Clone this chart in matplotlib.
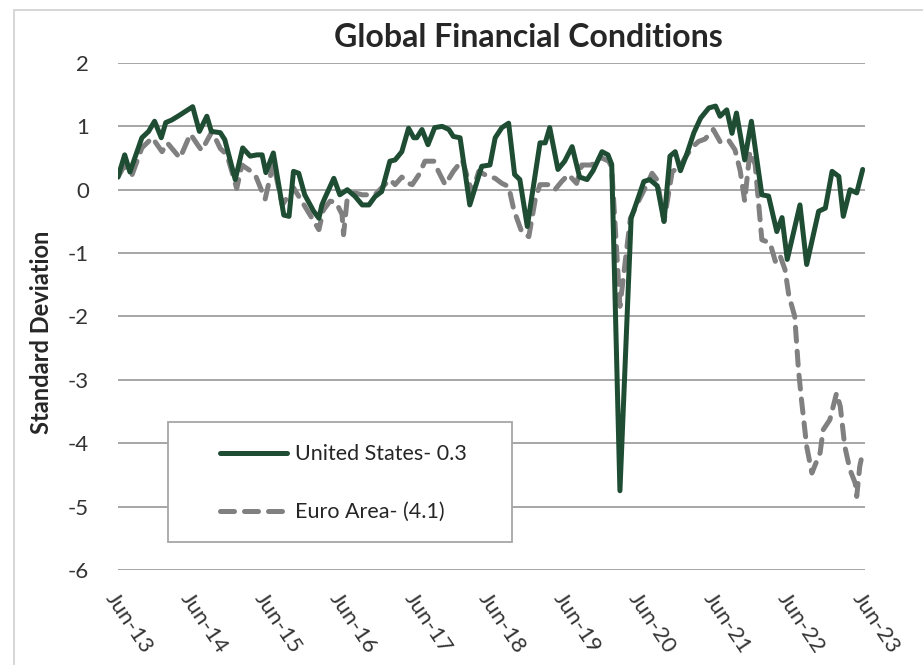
import numpy as np
import matplotlib.pyplot as plt
from matplotlib.patches import Rectangle

# dates as decimal years, values in standard deviations
us_t = [2013.50, 2013.59, 2013.66, 2013.82, 2013.91, 2013.99, 2014.08, 2014.14, 2014.22, 2014.33,
        2014.50, 2014.59, 2014.69, 2014.75, 2014.87, 2014.93, 2015.07, 2015.17, 2015.27, 2015.36,
        2015.43, 2015.48, 2015.58, 2015.72, 2015.79, 2015.85, 2015.92, 2016.00, 2016.12, 2016.19,
        2016.23, 2016.27, 2016.39, 2016.47, 2016.57, 2016.67, 2016.77, 2016.86, 2016.94, 2017.03,
        2017.14, 2017.21, 2017.30, 2017.39, 2017.46, 2017.50, 2017.57, 2017.65, 2017.74, 2017.84,
        2017.93, 2017.99, 2018.08, 2018.21, 2018.37, 2018.48, 2018.55, 2018.64, 2018.73, 2018.81,
        2018.88, 2018.98, 2019.15, 2019.22, 2019.28, 2019.39, 2019.48, 2019.58, 2019.68, 2019.78,
        2019.86, 2019.98, 2020.06, 2020.11, 2020.22, 2020.37, 2020.54, 2020.62, 2020.72, 2020.81,
        2020.89, 2020.96, 2021.03, 2021.12, 2021.21, 2021.30, 2021.41, 2021.50, 2021.56, 2021.65,
        2021.72, 2021.78, 2021.89, 2021.98, 2022.12, 2022.21, 2022.32, 2022.39, 2022.46, 2022.63,
        2022.72, 2022.88, 2022.97, 2023.06, 2023.15, 2023.21, 2023.30, 2023.39, 2023.47]
us_v = [0.20, 0.55, 0.28, 0.82, 0.92, 1.08, 0.82, 1.06, 1.10, 1.18,
        1.31, 0.92, 1.16, 0.92, 0.90, 0.79, 0.16, 0.66, 0.53, 0.55,
        0.55, 0.27, 0.58, -0.40, -0.42, 0.29, 0.26, -0.08, -0.34, -0.45,
        -0.24, -0.13, 0.18, -0.08, 0.00, -0.10, -0.24, -0.24, -0.11, -0.03,
        0.45, 0.47, 0.60, 0.97, 0.82, 0.82, 0.95, 0.71, 0.98, 1.00,
        0.95, 0.84, 0.82, -0.24, 0.37, 0.39, 0.82, 0.98, 1.05, 0.24,
        0.16, -0.58, 0.74, 0.74, 0.98, 0.32, 0.45, 0.68, 0.20, 0.16,
        0.30, 0.60, 0.55, 0.40, -4.75, -0.45, 0.13, 0.16, 0.06, -0.50,
        0.53, 0.60, 0.30, 0.58, 0.90, 1.13, 1.29, 1.32, 1.16, 1.26,
        0.89, 1.21, 0.47, 1.08, -0.08, -0.10, -0.66, -0.44, -1.10, -0.24,
        -1.18, -0.34, -0.29, 0.29, 0.21, -0.42, 0.00, -0.05, 0.32]

ea_t = [2013.50, 2013.58, 2013.69, 2013.82, 2013.96, 2014.09, 2014.16, 2014.33, 2014.47, 2014.56,
        2014.62, 2014.76, 2014.87, 2014.96, 2015.09, 2015.16, 2015.27, 2015.35, 2015.47, 2015.58,
        2015.70, 2015.85, 2015.96, 2016.19, 2016.25, 2016.34, 2016.42, 2016.50, 2016.52, 2016.57,
        2016.67, 2016.77, 2016.94, 2017.03, 2017.14, 2017.21, 2017.30, 2017.39, 2017.44, 2017.53,
        2017.61, 2017.73, 2017.79, 2017.88, 2017.99, 2018.11, 2018.24, 2018.33, 2018.44, 2018.55,
        2018.64, 2018.73, 2018.80, 2018.91, 2019.00, 2019.09, 2019.15, 2019.27, 2019.35, 2019.44,
        2019.53, 2019.64, 2019.71, 2019.85, 2019.91, 2019.98, 2020.07, 2020.11, 2020.22, 2020.36,
        2020.49, 2020.58, 2020.65, 2020.72, 2020.81, 2020.92, 2021.01, 2021.09, 2021.18, 2021.27,
        2021.36, 2021.47, 2021.56, 2021.67, 2021.76, 2021.83, 2021.89, 2021.96, 2022.03, 2022.12,
        2022.23, 2022.30, 2022.36, 2022.43, 2022.48, 2022.56, 2022.61, 2022.65, 2022.72, 2022.79,
        2022.90, 2022.94, 2023.03, 2023.12, 2023.17, 2023.23, 2023.30, 2023.37, 2023.39, 2023.43,
        2023.46]
ea_v = [0.20, 0.37, 0.24, 0.66, 0.82, 0.60, 0.74, 0.50, 0.88, 0.72,
        0.62, 0.92, 0.65, 0.55, 0.02, 0.39, 0.30, 0.20, -0.15, 0.42,
        -0.24, 0.03, -0.18, -0.63, -0.32, -0.18, -0.20, -0.39, -0.71, -0.13,
        -0.05, -0.08, -0.08, 0.03, 0.16, 0.08, 0.20, 0.10, 0.08, 0.24,
        0.45, 0.45, 0.29, 0.08, 0.29, 0.47, -0.05, 0.29, 0.22, 0.18,
        0.10, 0.05, -0.32, -0.68, -0.74, -0.13, 0.08, 0.08, 0.00, 0.13,
        0.24, 0.10, 0.39, 0.39, 0.50, 0.50, 0.45, 0.35, -1.84, -0.45,
        -0.13, 0.08, 0.26, 0.15, -0.50, 0.29, 0.34, 0.50, 0.66, 0.76,
        0.80, 0.95, 0.76, 0.79, 0.63, 0.30, -0.18, 0.60, 0.40, -0.79,
        -0.84, -1.13, -1.03, -1.26, -1.66, -2.00, -2.84, -3.31, -4.05, -4.47,
        -4.15, -3.79, -3.63, -3.21, -3.42, -4.05, -4.42, -4.63, -4.84, -4.37,
        -4.20]

tick_years = [2013.5 + i for i in range(11)]
tick_labels = ['Jun-13', 'Jun-14', 'Jun-15', 'Jun-16', 'Jun-17', 'Jun-18',
               'Jun-19', 'Jun-20', 'Jun-21', 'Jun-22', 'Jun-23']
legend_labels = ['United States- 0.3', 'Euro Area- (4.1)']

plt.rcParams['font.family'] = ['Lato', 'DejaVu Sans']
plt.rcParams['axes.unicode_minus'] = False

fig = plt.figure(figsize=(9.23, 6.65), dpi=100)
ax = fig.add_axes([0.1278, 0.1429, 0.8093, 0.7624])

grey = '#808080'
green = '#1e4d34'

l2, = ax.plot(ea_t, ea_v, color=grey, lw=3.6, dashes=(2.8, 2.0),
              dash_capstyle='round', solid_joinstyle='round', zorder=3)
l1, = ax.plot(us_t, us_v, color=green, lw=3.6, solid_joinstyle='round',
              solid_capstyle='round', zorder=4)

ax.set_xlim(2013.5, 2023.5)
ax.set_ylim(-6, 2)
ax.set_yticks(np.arange(-6, 3, 1))
ax.set_xticks(tick_years)
ax.set_xticklabels(tick_labels, rotation=-56, ha='left', va='top',
                   rotation_mode='anchor')
ax.tick_params(axis='y', length=0, pad=21, labelsize=16, colors='#333333')
ax.tick_params(axis='x', length=0, pad=14, labelsize=16, colors='#333333')
ax.grid(axis='y', color='#a6a6a6', lw=1.4)
ax.set_axisbelow(True)
for s in ax.spines.values():
    s.set_visible(False)

ax.set_ylabel('Standard Deviation', fontsize=17, fontweight='bold', color='#262626')
ax.yaxis.set_label_coords(-0.087, 0.469)

fig.text(0.572, 0.944, 'Global Financial Conditions', ha='center', va='center',
         fontsize=23, fontweight='bold', color='#262626')

# legend box drawn like the excel one
box = Rectangle((0.067, 0.055), 0.46, 0.237, transform=ax.transAxes,
                facecolor='white', edgecolor='#a6a6a6', lw=1.3, zorder=5)
ax.add_patch(box)
ax.legend([l1, l2], legend_labels, loc='center left', frameon=False,
          bbox_to_anchor=(0.122, 0.171), borderpad=0, handlelength=3.1,
          handletextpad=0.4, labelspacing=1.75, fontsize=15.5,
          labelcolor='#262626').set_zorder(6)

# outer chart frame
fig.add_artist(Rectangle((14 / 923, -0.1), 1.2, 1 - 10 / 665 + 0.1,
                         transform=fig.transFigure, fill=False,
                         edgecolor='#d0d0d0', lw=1.2))

plt.savefig('out.png', dpi=100)
plt.close()
